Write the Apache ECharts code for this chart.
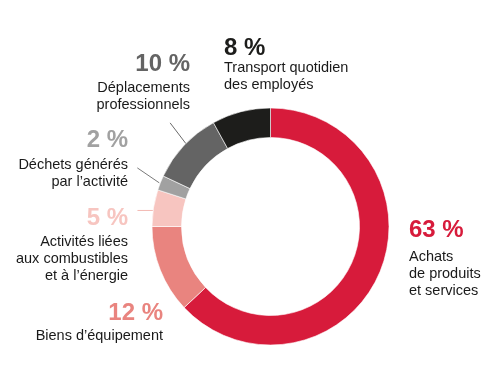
<!DOCTYPE html>
<html><head><meta charset="utf-8">
<script src="https://cdn.jsdelivr.net/npm/echarts@6/dist/echarts.min.js"></script>
<style>html,body{margin:0;padding:0;background:#fff}#c{width:496px;height:380px}</style>
</head><body><div id="c"></div>
<script>
// ---- data ----
const categories = [
  'Achats\nde produits\net services',
  'Biens d’équipement',
  'Activités liées\naux combustibles\net à l’énergie',
  'Déchets générés\npar l’activité',
  'Déplacements\nprofessionnels',
  'Transport quotidien\ndes employés'
];
const values = [63, 12, 5, 2, 10, 8];

// ---- styles / layout ----
const sliceColors = ['#D71B3B', '#E9847F', '#F7C5C0', '#A1A1A1', '#646464', '#1D1D1B'];
const labelPos = [
  {x: 409, cy: 230.5, align: 'left',  lh: 35},
  {x: 163, cy: 313,   align: 'right', lh: 29},
  {x: 128, cy: 218,   align: 'right', lh: 31},
  {x: 128, cy: 140,   align: 'right', lh: 33},
  {x: 190, cy: 64,    align: 'right', lh: 30},
  {x: 224, cy: 48.5,  align: 'left',  lh: 21}
];
// leader line: offset of the outer end from the anchor on the ring edge
const leader = [null, null,
  {dx: -16, dy: 0, shift: [0, 2.5], color: '#F3B9B3'},
  {dx: -22, dy: -15, shift: [-1, 0], color: '#7a7a7a'},
  {dx: -16, dy: -21, shift: [2, -1.5], color: '#6a6a6a'},
  null];
const CX = 270.5, CY = 226.5, R0 = 89, R1 = 118.5;
const FONT = "'Liberation Sans', Arial, sans-serif";

const rich = {};
labelPos.forEach((L, i) => {
  rich['p' + i] = {fontFamily: FONT, fontSize: 24, fontWeight: 'bold', color: sliceColors[i], lineHeight: L.lh, align: L.align};
  rich['t' + i] = {fontFamily: FONT, fontSize: 14.5, color: '#1a1a1a', lineHeight: 17, align: L.align};
});

const seriesData = values.map((v, i) => ({
  name: categories[i],
  value: v,
  itemStyle: {color: sliceColors[i]},
  labelLine: leader[i] ? {show: true, lineStyle: {color: leader[i].color, width: 1}} : {show: false}
}));

const chart = echarts.init(document.getElementById('c'), null, {renderer: 'canvas'});
chart.setOption({
  animation: false,
  backgroundColor: '#fff',
  series: [{
    type: 'pie',
    center: [CX, CY],
    radius: [R0, R1],
    startAngle: 90,
    clockwise: true,
    avoidLabelOverlap: false,
    emphasis: {disabled: true},
    itemStyle: {borderColor: '#fff', borderWidth: 0.6},
    label: {
      show: true,
      position: 'outside',
      overflow: 'none',
      bleedMargin: 0,
      formatter: function (p) {
        const i = p.dataIndex;
        let s = '{p' + i + '|' + p.value + ' %}';
        categories[i].split('\n').forEach(l => { s += '\n{t' + i + '|' + l + '}'; });
        return s;
      },
      rich: rich
    },
    labelLine: {show: false, length: 5, length2: 5},
    labelLayout: function (params) {
      const i = params.dataIndex;
      const L = labelPos[i];
      const out = {x: L.x, y: L.cy - L.lh / 2, align: L.align, verticalAlign: 'top'};
      const ld = leader[i];
      if (ld && params.labelLinePoints) {
        const p0 = params.labelLinePoints[0];
        const a = [p0[0] + ld.shift[0], p0[1] + ld.shift[1]];
        out.labelLinePoints = [a, [a[0] + ld.dx, a[1] + ld.dy]];
      }
      return out;
    },
    data: seriesData
  }]
});
</script>
</body></html>
